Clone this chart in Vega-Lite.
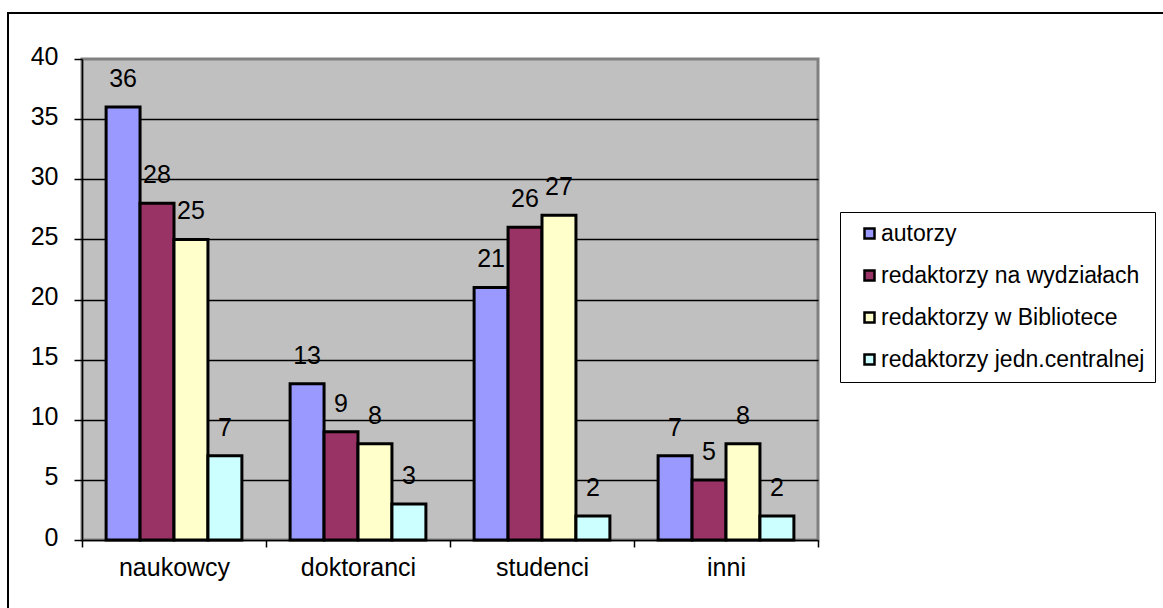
{
  "$schema": "https://vega.github.io/schema/vega-lite/v6.json",
  "width": 736,
  "height": 481,
  "autosize": {"type": "none"},
  "padding": {"left": 82, "top": 59, "right": 345, "bottom": 68},
  "background": "white",
  "config": {
    "font": "Liberation Sans",
    "view": {"fill": "#C0C0C0", "stroke": "#808080", "strokeWidth": 3},
    "axis": {"labelFont": "Liberation Sans", "labelFontSize": 25, "labelColor": "black", "title": null}
  },
  "data": {"values": [
    {"grupa": "naukowcy", "seria": "autorzy", "liczba": 36},
    {"grupa": "naukowcy", "seria": "redaktorzy na wydziałach", "liczba": 28},
    {"grupa": "naukowcy", "seria": "redaktorzy w Bibliotece", "liczba": 25},
    {"grupa": "naukowcy", "seria": "redaktorzy jedn.centralnej", "liczba": 7},
    {"grupa": "doktoranci", "seria": "autorzy", "liczba": 13},
    {"grupa": "doktoranci", "seria": "redaktorzy na wydziałach", "liczba": 9},
    {"grupa": "doktoranci", "seria": "redaktorzy w Bibliotece", "liczba": 8},
    {"grupa": "doktoranci", "seria": "redaktorzy jedn.centralnej", "liczba": 3},
    {"grupa": "studenci", "seria": "autorzy", "liczba": 21},
    {"grupa": "studenci", "seria": "redaktorzy na wydziałach", "liczba": 26},
    {"grupa": "studenci", "seria": "redaktorzy w Bibliotece", "liczba": 27},
    {"grupa": "studenci", "seria": "redaktorzy jedn.centralnej", "liczba": 2},
    {"grupa": "inni", "seria": "autorzy", "liczba": 7},
    {"grupa": "inni", "seria": "redaktorzy na wydziałach", "liczba": 5},
    {"grupa": "inni", "seria": "redaktorzy w Bibliotece", "liczba": 8},
    {"grupa": "inni", "seria": "redaktorzy jedn.centralnej", "liczba": 2}
  ]},
  "encoding": {
    "x": {
      "field": "grupa", "type": "nominal",
      "sort": ["naukowcy", "doktoranci", "studenci", "inni"],
      "scale": {"paddingInner": 0, "paddingOuter": 0},
      "axis": {
        "labelAngle": 0, "tickBand": "extent", "tickSize": 7, "tickColor": "black", "tickWidth": 1.5,
        "domainColor": "black", "domainWidth": 1.5, "labelPadding": 8, "grid": false
      }
    },
    "xOffset": {
      "field": "seria", "type": "nominal",
      "sort": ["autorzy", "redaktorzy na wydziałach", "redaktorzy w Bibliotece", "redaktorzy jedn.centralnej"],
      "scale": {"paddingInner": 0, "paddingOuter": 0.71}
    },
    "y": {
      "field": "liczba", "type": "quantitative",
      "scale": {"domain": [0, 40], "nice": false},
      "axis": {
        "values": [0, 5, 10, 15, 20, 25, 30, 35, 40],
        "tickSize": 8, "tickColor": "black", "tickWidth": 1.5,
        "domainColor": "black", "domainWidth": 1.5,
        "labelPadding": 16, "labelOffset": -3,
        "grid": true,
        "gridColor": {"condition": {"test": "datum.value === 0 || datum.value === 40", "value": "transparent"}, "value": "black"},
        "gridWidth": 1.5
      }
    }
  },
  "layer": [
    {
      "mark": {"type": "rect", "fill": null, "filled": false, "stroke": "black", "strokeWidth": 1.5},
      "encoding": {
        "x": {"value": -74}, "x2": {"value": 1120},
        "y": {"value": -46}, "y2": {"value": 580},
        "xOffset": null
      }
    },
    {
      "mark": {"type": "bar", "stroke": "black", "strokeWidth": 3},
      "encoding": {
        "color": {
          "field": "seria", "type": "nominal",
          "sort": ["autorzy", "redaktorzy na wydziałach", "redaktorzy w Bibliotece", "redaktorzy jedn.centralnej"],
          "scale": {
            "domain": ["autorzy", "redaktorzy na wydziałach", "redaktorzy w Bibliotece", "redaktorzy jedn.centralnej"],
            "range": ["#9999FF", "#993366", "#FFFFCC", "#CCFFFF"]
          },
          "legend": {
            "title": null, "orient": "none", "legendX": 758, "legendY": 153,
            "symbolType": "square", "symbolSize": 100, "symbolStrokeColor": "black", "symbolStrokeWidth": 2.5,
            "symbolOffset": 8, "labelOffset": 0,
            "labelFont": "Liberation Sans", "labelFontSize": 23, "labelColor": "black", "labelLimit": 400,
            "rowPadding": 18, "padding": 10, "strokeColor": "black", "fillColor": "white"
          }
        }
      }
    },
    {
      "mark": {"type": "text", "font": "Liberation Sans", "fontSize": 25, "color": "black", "baseline": "alphabetic", "dy": -20},
      "encoding": {"text": {"field": "liczba", "type": "quantitative"}}
    }
  ]
}
